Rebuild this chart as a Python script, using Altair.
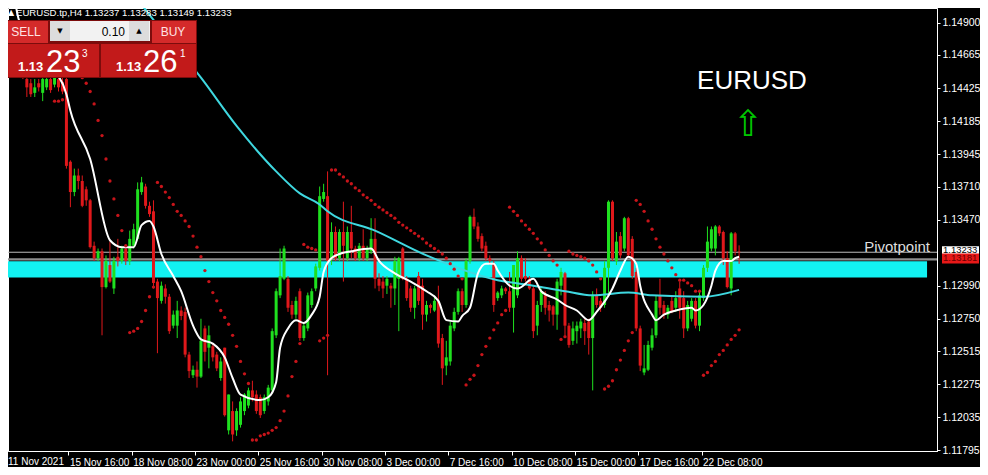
import json
import altair as alt
import pandas as pd

# ---------------- data ----------------
symbol = "EURUSD.tp,H4"
bars = list(range(186))
opens = [1.1477, 1.1485, 1.1474, 1.1463, 1.1467, 1.1449, 1.1446, 1.1439, 1.1446, 1.1439,
         1.1443, 1.1449, 1.1445, 1.1449, 1.1447, 1.1449, 1.1389, 1.1367, 1.1379, 1.1375,
         1.1369, 1.1361, 1.1328, 1.1319, 1.1324, 1.1298, 1.1314, 1.1297, 1.1320, 1.1317,
         1.1326, 1.1317, 1.1328, 1.1333, 1.1367, 1.1371, 1.1357, 1.1353, 1.1302, 1.1288,
         1.1297, 1.1291, 1.1270, 1.1270, 1.1281, 1.1280, 1.1249, 1.1234, 1.1238, 1.1233,
         1.1268, 1.1254, 1.1255, 1.1249, 1.1232, 1.1254, 1.1194, 1.1208, 1.1194, 1.1198,
         1.1208, 1.1212, 1.1223, 1.1220, 1.1218, 1.1208, 1.1215, 1.1223, 1.1263, 1.1292,
         1.1304, 1.1304, 1.1285, 1.1278, 1.1295, 1.1261, 1.1268, 1.1285, 1.1297, 1.1312,
         1.1362, 1.1364, 1.1319, 1.1338, 1.1319, 1.1338, 1.1319, 1.1338, 1.1326, 1.1319,
         1.1328, 1.1319, 1.1324, 1.1333, 1.1304, 1.1302, 1.1299, 1.1299, 1.1297, 1.1304,
         1.1326, 1.1304, 1.1297, 1.1283, 1.1306, 1.1299, 1.1278, 1.1285, 1.1281, 1.1288,
         1.1261, 1.1241, 1.1244, 1.1268, 1.1280, 1.1295, 1.1285, 1.1317, 1.1349, 1.1342,
         1.1335, 1.1328, 1.1319, 1.1315, 1.1290, 1.1292, 1.1297, 1.1295, 1.1283, 1.1292,
         1.1319, 1.1306, 1.1304, 1.1297, 1.1270, 1.1285, 1.1292, 1.1285, 1.1284, 1.1278,
         1.1299, 1.1308, 1.1270, 1.1259, 1.1266, 1.1268, 1.1272, 1.1273, 1.1261, 1.1292,
         1.1288, 1.1285, 1.1312, 1.1360, 1.1317, 1.1335, 1.1326, 1.1348, 1.1333, 1.1309,
         1.1268, 1.1236, 1.1238, 1.1254, 1.1263, 1.1292, 1.1285, 1.1278, 1.1288, 1.1283,
         1.1297, 1.1290, 1.1268, 1.1275, 1.1288, 1.1270, 1.1290, 1.1312, 1.1326, 1.1326,
         1.1342, 1.1338, 1.1319, 1.1297, 1.1337, 1.13237]
highs = [1.1491, 1.1488, 1.1477, 1.1470, 1.1469, 1.1451, 1.1449, 1.1449, 1.1449, 1.1450,
         1.1451, 1.1450, 1.1452, 1.1451, 1.1450, 1.1450, 1.1390, 1.1384, 1.1384, 1.1379,
         1.1371, 1.1362, 1.1331, 1.1326, 1.1326, 1.1321, 1.1331, 1.1320, 1.1333, 1.1328,
         1.1328, 1.1339, 1.1344, 1.1374, 1.1378, 1.1373, 1.1360, 1.1361, 1.1304, 1.1302,
         1.1300, 1.1293, 1.1281, 1.1288, 1.1284, 1.1283, 1.1251, 1.1241, 1.1244, 1.1275,
         1.1270, 1.1270, 1.1257, 1.1251, 1.1247, 1.1254, 1.1220, 1.1215, 1.1210, 1.1218,
         1.1221, 1.1225, 1.1230, 1.1223, 1.1220, 1.1220, 1.1227, 1.1268, 1.1297, 1.1326,
         1.1328, 1.1306, 1.1288, 1.1291, 1.1297, 1.1272, 1.1294, 1.1297, 1.1315, 1.1371,
         1.1373, 1.1382, 1.1345, 1.1342, 1.1340, 1.1360, 1.1342, 1.1357, 1.1328, 1.1330,
         1.1340, 1.1328, 1.1348, 1.1348, 1.1308, 1.1306, 1.1306, 1.1301, 1.1320, 1.1320,
         1.1327, 1.1306, 1.1299, 1.1299, 1.1309, 1.1304, 1.1288, 1.1286, 1.1292, 1.1299,
         1.1264, 1.1259, 1.1273, 1.1283, 1.1297, 1.1297, 1.1319, 1.1350, 1.1355, 1.1345,
         1.1337, 1.1331, 1.1321, 1.1317, 1.1295, 1.1299, 1.1298, 1.1309, 1.1314, 1.1324,
         1.1321, 1.1319, 1.1306, 1.1299, 1.1288, 1.1297, 1.1295, 1.1288, 1.1285, 1.1304,
         1.1312, 1.1309, 1.1272, 1.1273, 1.1273, 1.1275, 1.1275, 1.1275, 1.1295, 1.1297,
         1.1290, 1.1317, 1.1361, 1.1361, 1.1338, 1.1338, 1.1349, 1.1349, 1.1335, 1.1312,
         1.1270, 1.1256, 1.1259, 1.1268, 1.1292, 1.1304, 1.1288, 1.1285, 1.1292, 1.1295,
         1.1302, 1.1295, 1.1288, 1.1290, 1.1290, 1.1295, 1.1314, 1.1342, 1.1342, 1.1343,
         1.1343, 1.1339, 1.1324, 1.1338, 1.1338, 1.13283]
lows = [1.1474, 1.1470, 1.1460, 1.1457, 1.1449, 1.1436, 1.1436, 1.1436, 1.1440, 1.1433,
        1.1441, 1.1439, 1.1443, 1.1440, 1.1438, 1.1384, 1.1356, 1.1364, 1.1369, 1.1356,
        1.1357, 1.1326, 1.1317, 1.1317, 1.1263, 1.1297, 1.1301, 1.1293, 1.1313, 1.1315,
        1.1314, 1.1314, 1.1326, 1.1332, 1.1365, 1.1355, 1.1349, 1.1297, 1.1250, 1.1286,
        1.1286, 1.1264, 1.1268, 1.1261, 1.1274, 1.1247, 1.1232, 1.1232, 1.1225, 1.1232,
        1.1244, 1.1239, 1.1244, 1.1237, 1.1230, 1.1204, 1.1191, 1.1186, 1.1190, 1.1196,
        1.1205, 1.1210, 1.1215, 1.1206, 1.1203, 1.1206, 1.1212, 1.1221, 1.1261, 1.1290,
        1.1303, 1.1280, 1.1275, 1.1275, 1.1259, 1.1259, 1.1266, 1.1283, 1.1295, 1.1310,
        1.1360, 1.1234, 1.1314, 1.1317, 1.1317, 1.1302, 1.1317, 1.1319, 1.1317, 1.1317,
        1.1317, 1.1317, 1.1322, 1.1297, 1.1295, 1.1290, 1.1293, 1.1283, 1.1285, 1.1266,
        1.1303, 1.1288, 1.1280, 1.1275, 1.1285, 1.1267, 1.1273, 1.1279, 1.1280, 1.1254,
        1.1227, 1.1234, 1.1241, 1.1266, 1.1278, 1.1280, 1.1283, 1.1315, 1.1340, 1.1331,
        1.1324, 1.1317, 1.1314, 1.1280, 1.1288, 1.1290, 1.1293, 1.1280, 1.1265, 1.1290,
        1.1302, 1.1302, 1.1296, 1.1261, 1.1263, 1.1280, 1.1278, 1.1273, 1.1270, 1.1267,
        1.1292, 1.1263, 1.1254, 1.1256, 1.1257, 1.1261, 1.1256, 1.1249, 1.1223, 1.1283,
        1.1280, 1.1283, 1.1292, 1.1317, 1.1314, 1.1319, 1.1324, 1.1319, 1.1304, 1.1266,
        1.1237, 1.1234, 1.1237, 1.1252, 1.1261, 1.1278, 1.1275, 1.1275, 1.1279, 1.1280,
        1.1275, 1.1261, 1.1266, 1.1273, 1.1268, 1.1266, 1.1288, 1.1309, 1.1324, 1.1321,
        1.1335, 1.1314, 1.1297, 1.1292, 1.1321, 1.13149]
closes = [1.1488, 1.1474, 1.1463, 1.1467, 1.1452, 1.1443, 1.1438, 1.1443, 1.1443, 1.1449,
          1.1449, 1.1441, 1.1450, 1.1443, 1.1440, 1.1386, 1.1367, 1.1379, 1.1375, 1.1357,
          1.1361, 1.1327, 1.1319, 1.1324, 1.1298, 1.1317, 1.1302, 1.1317, 1.1317, 1.1326,
          1.1317, 1.1333, 1.1340, 1.1369, 1.1374, 1.1357, 1.1351, 1.1301, 1.1290, 1.1299,
          1.1291, 1.1266, 1.1278, 1.1281, 1.1277, 1.1249, 1.1237, 1.1238, 1.1233, 1.1259,
          1.1251, 1.1263, 1.1247, 1.1239, 1.1244, 1.1205, 1.1220, 1.1191, 1.1208, 1.1215,
          1.1220, 1.1223, 1.1218, 1.1208, 1.1205, 1.1218, 1.1225, 1.1266, 1.1295, 1.1306,
          1.1326, 1.1283, 1.1278, 1.1288, 1.1261, 1.1270, 1.1292, 1.1295, 1.1313, 1.1364,
          1.1367, 1.1317, 1.1338, 1.1319, 1.1338, 1.1328, 1.1338, 1.1326, 1.1319, 1.1328,
          1.1319, 1.1326, 1.1333, 1.1304, 1.1299, 1.1297, 1.1304, 1.1297, 1.1317, 1.1319,
          1.1304, 1.1290, 1.1283, 1.1297, 1.1288, 1.1278, 1.1285, 1.1283, 1.1288, 1.1257,
          1.1239, 1.1247, 1.1270, 1.1280, 1.1295, 1.1285, 1.1317, 1.1349, 1.1342, 1.1333,
          1.1326, 1.1319, 1.1317, 1.1285, 1.1294, 1.1297, 1.1295, 1.1283, 1.1314, 1.1319,
          1.1304, 1.1304, 1.1297, 1.1266, 1.1285, 1.1295, 1.1283, 1.1281, 1.1278, 1.1302,
          1.1309, 1.1270, 1.1256, 1.1268, 1.1270, 1.1273, 1.1266, 1.1261, 1.1292, 1.1285,
          1.1283, 1.1312, 1.1360, 1.1319, 1.1331, 1.1321, 1.1348, 1.1321, 1.1306, 1.1268,
          1.1241, 1.1239, 1.1256, 1.1263, 1.1288, 1.1283, 1.1278, 1.1283, 1.1280, 1.1290,
          1.1283, 1.1268, 1.1285, 1.1288, 1.1270, 1.1292, 1.1312, 1.1331, 1.1340, 1.1342,
          1.1337, 1.1319, 1.1298, 1.1337, 1.1324, 1.13233]

# Parabolic SAR, one dot per bar from bar 12
sar_bars = list(range(12, 186))
sar_vals = [1.1433, 1.1433, 1.1434,
            1.1474, 1.1467, 1.1461, 1.1455,
            1.1450, 1.1446, 1.1440, 1.1431, 1.1419, 1.1408, 1.1391, 1.1375, 1.1362, 1.1350, 1.1339, 1.1328,
            1.1265, 1.1266, 1.1268, 1.1273, 1.1281, 1.1291, 1.1298,
            1.1374, 1.1371, 1.1367, 1.1363, 1.1358, 1.1353, 1.1350, 1.1346, 1.1342, 1.1335, 1.1327, 1.1320,
            1.1310, 1.1302, 1.1294, 1.1288, 1.1281, 1.1276, 1.1271, 1.1263, 1.1255, 1.1244, 1.1235, 1.1228,
            1.1187, 1.1187, 1.1190, 1.1191, 1.1192, 1.1194, 1.1196, 1.1201, 1.1208, 1.1219, 1.1233, 1.1244, 1.1257,
            1.1329, 1.1327, 1.1326, 1.1325,
            1.1259, 1.1261, 1.1263,
            1.1383, 1.1383, 1.1380, 1.1378, 1.1375, 1.1373, 1.1370, 1.1368, 1.1365, 1.1363, 1.1361, 1.1358,
            1.1356, 1.1354, 1.1352, 1.1350, 1.1348, 1.1345, 1.1343, 1.1341, 1.1339, 1.1337, 1.1335, 1.1333,
            1.1330, 1.1328, 1.1326, 1.1324, 1.1322, 1.1319, 1.1315, 1.1311, 1.1306, 1.1304,
            1.1227, 1.1231, 1.1234, 1.1241, 1.1249, 1.1255, 1.1261, 1.1267, 1.1272, 1.1278, 1.1281,
            1.1356, 1.1353, 1.1350, 1.1346, 1.1343, 1.1340, 1.1337, 1.1333, 1.1330, 1.1325, 1.1321, 1.1317, 1.1314,
            1.1260, 1.1262,
            1.1324, 1.1322, 1.1321, 1.1320, 1.1319, 1.1317, 1.1314, 1.1309, 1.1304,
            1.1224, 1.1226, 1.1230, 1.1238, 1.1245, 1.1252, 1.1259, 1.1265,
            1.1361, 1.1358, 1.1353, 1.1346, 1.1340, 1.1333, 1.1327, 1.1322, 1.1317, 1.1312, 1.1307, 1.1303,
            1.1303, 1.1301, 1.1299, 1.1295, 1.1295,
            1.1234, 1.1236, 1.1241, 1.1244, 1.1249, 1.1252, 1.1256, 1.1260, 1.1263, 1.1267]

fast_ma_bars = [2, 3, 8, 12, 15, 16, 21, 26, 29, 32, 34, 36, 37, 39, 42, 44, 47, 49, 52, 55,
                57, 59, 64, 66, 68, 69, 71, 73, 75, 77, 79, 80, 82, 84, 87, 92, 94, 98, 102, 106,
                109, 111, 114, 115, 117, 119, 121, 123, 124, 127, 129, 133, 135, 139, 141, 144, 147, 149, 153, 155,
                157, 159, 160, 163, 164, 166, 169, 173, 174, 176, 178, 179, 181, 183, 184, 185]
fast_ma_vals = [1.1506, 1.1492, 1.1474, 1.1456, 1.1438, 1.1426, 1.1391, 1.1332, 1.1327, 1.1327,
                1.1343, 1.1346, 1.1342, 1.1322, 1.1306, 1.1295, 1.1270, 1.1260, 1.1257, 1.1247,
                1.1232, 1.1220, 1.1216, 1.1218, 1.1229, 1.1254, 1.1268, 1.1274, 1.1272, 1.1278,
                1.1291, 1.1309, 1.1319, 1.1322, 1.1324, 1.1326, 1.1317, 1.1308, 1.1302, 1.1295,
                1.1288, 1.1274, 1.1273, 1.1277, 1.1283, 1.1308, 1.1315, 1.1315, 1.1310, 1.1299,
                1.1297, 1.1304, 1.1295, 1.1289, 1.1285, 1.1281, 1.1274, 1.1280, 1.1297, 1.1310,
                1.1320, 1.1315, 1.1299, 1.1278, 1.1274, 1.1278, 1.1281, 1.1283, 1.1281, 1.1285,
                1.1299, 1.1310, 1.1317, 1.1317, 1.1319, 1.1320]
slow_ma_bars = [31, 37, 49, 58, 68, 74, 79, 81, 93, 106, 124, 133, 141, 148, 157, 163, 176, 185]
slow_ma_vals = [1.1514, 1.1492, 1.1450, 1.1415, 1.1382, 1.1366, 1.1358, 1.1353, 1.1339, 1.1321,
                1.1303, 1.1299, 1.1295, 1.1292, 1.1294, 1.1292, 1.1291, 1.1296]

bid = 1.13233
ask = 1.13261
pivot = 1.13181
zone_low, zone_high = 1.13050, 1.13168
zone_start, zone_end = 0, 232.5

price_ticks = [1.14900, 1.14665, 1.14425, 1.14185, 1.13945, 1.13710, 1.13470,
               1.12990, 1.12750, 1.12515, 1.12275, 1.12035, 1.11795]
first_date_label = "11 Nov 2021"
time_tick_bars = [15.5, 31.5, 47.5, 63.5, 79.5, 95.5, 111.5, 127.5, 143.5, 159.5, 175.5]
time_tick_labels = ["15 Nov 16:00", "18 Nov 08:00", "23 Nov 00:00", "25 Nov 16:00",
                    "30 Nov 08:00", "3 Dec 00:00", "7 Dec 16:00", "10 Dec 08:00",
                    "15 Dec 00:00", "17 Dec 16:00", "22 Dec 08:00"]

# ---------------- styling ----------------
GREEN = "#1fe01f"
RED = "#e0181b"
SAR_RED = "#c8141a"
WHITE = "#ffffff"
CYAN_MA = "#3fd8e0"
ZONE = "#12f2f2"
FONT = "Liberation Sans"

xs = alt.Scale(domain=[1.5, 233.75], nice=False, zero=False)
ys = alt.Scale(domain=[1.11790, 1.150061], nice=False, zero=False)

label_expr = f"{json.dumps(time_tick_labels)}[indexof({json.dumps(time_tick_bars)}, datum.value)]"
x_axis = alt.Axis(values=time_tick_bars, labelExpr=label_expr, title=None, grid=False,
                  tickSize=4, labelPadding=2, labelAlign="left", labelOffset=1,
                  labelOverlap=False, labelFlush=False, labelBound=False,
                  domainColor=WHITE, tickColor=WHITE, labelColor=WHITE,
                  labelFont=FONT, labelFontSize=10)
y_axis = alt.Axis(orient="right", values=price_ticks, format=".5f", title=None, grid=False,
                  tickSize=3, labelPadding=2, labelOverlap=False, labelFlush=False,
                  labelBound=False, domainColor=WHITE, tickColor=WHITE, labelColor=WHITE,
                  labelFont=FONT, labelFontSize=10.5)


def X(f):
    return alt.X(f"{f}:Q", scale=xs, axis=x_axis)


def Y(f):
    return alt.Y(f"{f}:Q", scale=ys, axis=y_axis)


candles = pd.DataFrame({"bar": bars, "open": opens, "high": highs, "low": lows, "close": closes})
sar = pd.DataFrame({"bar": sar_bars, "sar": sar_vals})
fast = pd.DataFrame({"bar": fast_ma_bars, "ma": fast_ma_vals})
slow = pd.DataFrame({"bar": slow_ma_bars, "ma": slow_ma_vals})
zone = pd.DataFrame({"start": [zone_start], "end": [zone_end], "lo": [zone_low], "hi": [zone_high]})
levels = pd.DataFrame({"price": [bid, pivot], "kind": ["bid", "pivot"]})
one = pd.DataFrame({"k": [0]})

color = alt.Color("dir:N", scale=alt.Scale(domain=["up", "down"], range=[GREEN, RED]), legend=None)
dir_expr = "datum.close >= datum.open ? 'up' : 'down'"

zone_layer = alt.Chart(zone).mark_rect(color=ZONE, clip=True).encode(
    x=X("start"), x2="end", y=Y("lo"), y2="hi")
bid_line = alt.Chart(levels[levels.kind == "bid"]).mark_rule(color="#bdbdbd", strokeWidth=1).encode(y=Y("price"))
pivot_line = alt.Chart(levels[levels.kind == "pivot"]).mark_rule(color="#8e8e8e", strokeWidth=2.2).encode(y=Y("price"))

wicks = alt.Chart(candles).transform_calculate(dir=dir_expr).mark_rule(strokeWidth=1, clip=True).encode(
    x=X("bar"), y=Y("low"), y2="high", color=color)
bodies = alt.Chart(candles).transform_calculate(dir=dir_expr).mark_bar(size=3, clip=True).encode(
    x=X("bar"), y=Y("open"), y2="close", color=color)

slow_line = alt.Chart(slow).mark_line(color=CYAN_MA, strokeWidth=2, clip=True, interpolate="monotone").encode(
    x=X("bar"), y=Y("ma"))
fast_line = alt.Chart(fast).mark_line(color=WHITE, strokeWidth=2, clip=True, interpolate="monotone").encode(
    x=X("bar"), y=Y("ma"))
sar_layer = alt.Chart(sar).mark_circle(size=11, color=SAR_RED, opacity=1, clip=True).encode(
    x=X("bar"), y=Y("sar"))


def rect(x, x2, y, y2, fill):
    return alt.Chart(one).mark_rect(color=fill).encode(
        x=alt.value(x), x2=alt.value(x2), y=alt.value(y), y2=alt.value(y2))


def text(t, x, y, size, fill, align="left", baseline="middle", weight="normal", font=FONT):
    return alt.Chart(one).mark_text(text=t, align=align, baseline=baseline, fontSize=size,
                                    color=fill, fontWeight=weight, font=font).encode(
        x=alt.value(x), y=alt.value(y))


header = f"{symbol}  {opens[-1]:.5f} {highs[-1]:.5f} {lows[-1]:.5f} {closes[-1]:.5f}"
bid_s, ask_s = f"{bid:.5f}", f"{ask:.5f}"

panel = [
    rect(0, 189, 12, 70, "#7c0c0c"),
    rect(0, 40, 13, 35, "#d42a2a"),
    rect(42, 142, 13, 33, "#f2f2f2"),
    rect(42, 62, 13, 33, "#dcdcdc"),
    rect(121, 141, 13, 33, "#dcdcdc"),
    rect(144, 188, 13, 35, "#d42a2a"),
    rect(0, 91, 36, 69, "#c21a1a"),
    rect(93, 188, 36, 69, "#c21a1a"),
    text("SELL", 18, 24, 12, "#ffe4e4", align="center"),
    text("BUY", 165, 24, 12, "#ffe4e4", align="center"),
    text("▼", 52, 23, 7, "#000000", align="center", font="DejaVu Sans"),
    text("▲", 131, 23, 7, "#000000", align="center", font="DejaVu Sans"),
    text("0.10", 117, 24, 12, "#000000", align="right"),
    text(bid_s[:4], 10, 63, 13, WHITE, baseline="alphabetic", weight="bold"),
    text(bid_s[4:6], 38, 64, 31, WHITE, baseline="alphabetic"),
    text(bid_s[6], 74, 49, 10, WHITE, baseline="alphabetic"),
    text(ask_s[:4], 108, 63, 13, WHITE, baseline="alphabetic", weight="bold"),
    text(ask_s[4:6], 135, 64, 31, WHITE, baseline="alphabetic"),
    text(ask_s[6], 172, 49, 10, WHITE, baseline="alphabetic"),
]

labels = [
    text("▲", 0, 5, 8, WHITE, font="DejaVu Sans"),
    text(header, 8, 5, 9.6, WHITE),
    text("EURUSD", 744, 81, 26, WHITE, align="center", baseline="alphabetic"),
    text("⇧", 740, 117, 36, "#00c800", align="center", font="DejaVu Sans"),
    text("Pivotpoint", 922, 244, 15, "#dedede", align="right", baseline="alphabetic"),
    text(first_date_label, 0, 449, 10, WHITE, baseline="top"),
]

bid_box = alt.Chart(levels[levels.kind == "bid"]).mark_rect(color=WHITE, yOffset=-6, y2Offset=4).encode(
    x=alt.value(934), x2=alt.value(971), y=Y("price"), y2="price")
bid_txt = alt.Chart(levels[levels.kind == "bid"]).mark_text(
    align="left", baseline="middle", fontSize=9.5, font=FONT, color="#000000", dy=-2).encode(
    x=alt.value(935), y=Y("price"), text=alt.Text("price:Q", format=".5f"))
piv_box = alt.Chart(levels[levels.kind == "pivot"]).mark_rect(color="#e81818", yOffset=-6, y2Offset=4).encode(
    x=alt.value(934), x2=alt.value(971), y=Y("price"), y2="price")
piv_txt = alt.Chart(levels[levels.kind == "pivot"]).mark_text(
    align="left", baseline="middle", fontSize=9.5, font=FONT, color="#6a0000", dy=-1).encode(
    x=alt.value(935), y=Y("price"), text=alt.Text("price:Q", format=".5f"))

chart = alt.layer(
    zone_layer, bid_line, pivot_line, wicks, bodies, slow_line, fast_line, sar_layer,
    *labels, *panel, bid_box, bid_txt, piv_box, piv_txt
).properties(
    width=929, height=443,
    autosize=alt.AutoSizeParams(type="none"),
    padding={"left": 0, "top": 0, "right": 43, "bottom": 16},
    background="#000000",
).configure_view(stroke=WHITE, strokeWidth=1)

chart.save("out.html", embed_options={"renderer": "svg", "actions": False})
